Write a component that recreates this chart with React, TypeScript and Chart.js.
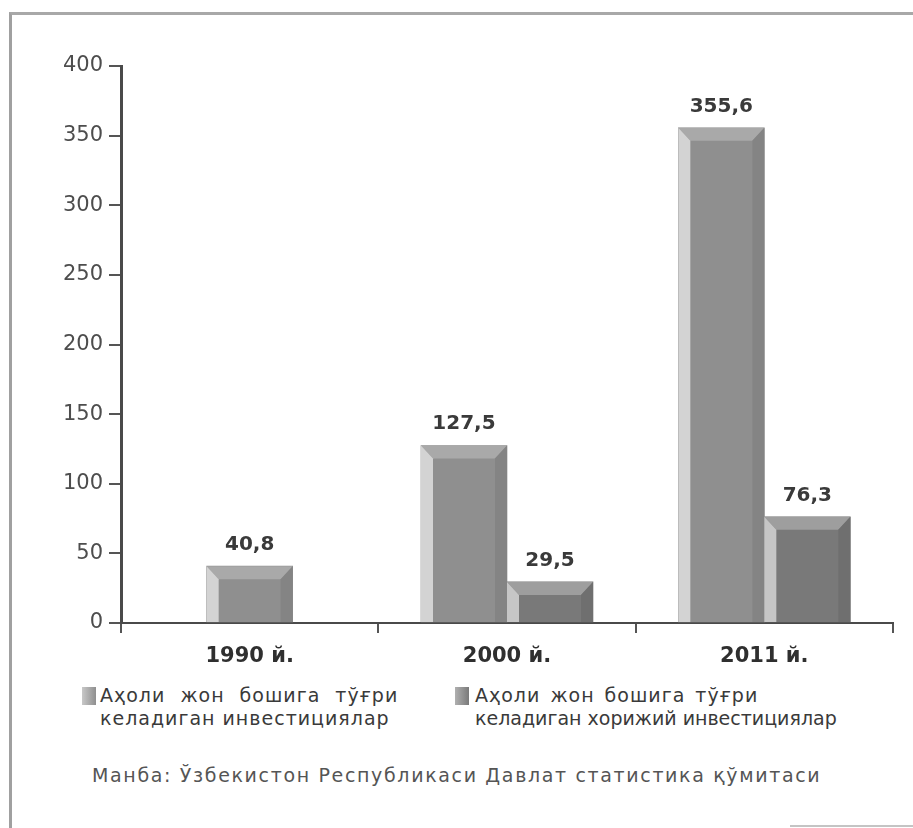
import React, { useEffect, useRef } from "react";
import { Chart, registerables } from "chart.js";

Chart.register(...registerables);

const categories = ["1990 й.", "2000 й.", "2011 й."];
const seriesNames = [
  "Аҳоли жон бошига тўғри келадиган инвестициялар",
  "Аҳоли жон бошига тўғри келадиган хорижий инвестициялар",
];
const totalInvest: (number | null)[] = [40.8, 127.5, 355.6];
const foreignInvest: (number | null)[] = [null, 29.5, 76.3];
const yTicks = [0, 50, 100, 150, 200, 250, 300, 350, 400];
const legendLines1 = ["Аҳоли жон бошига тўғри", "келадиган инвестициялар"];
const legendLines2 = ["Аҳоли жон бошига тўғри", "келадиган хорижий инвестициялар"];
const sourceText = "Манба: Ўзбекистон Республикаси Давлат статистика қўмитаси";

const palette = [
  { face: "#8f8f8f", top: "#a9a9a9", left: "#d3d3d3", right: "#848484" },
  { face: "#797979", top: "#9e9e9e", left: "#c6c6c6", right: "#6f6f6f" },
];

const bevelPlugin = {
  id: "bevel",
  afterDatasetsDraw(chart: any) {
    const ctx = chart.ctx;
    chart.data.datasets.forEach((ds: any, di: number) => {
      const meta = chart.getDatasetMeta(di);
      const pal = palette[di];
      meta.data.forEach((el: any, i: number) => {
        const v = ds.data[i];
        if (v === null || v === undefined) return;
        const p = el.getProps(["x", "y", "base", "width"], true);
        const L = p.x - p.width / 2;
        const R = p.x + p.width / 2;
        const T = p.y;
        const B = p.base;
        const bl = 12, bt = 13, br = 12;
        ctx.save();
        ctx.fillStyle = pal.top;
        ctx.beginPath();
        ctx.moveTo(L, T); ctx.lineTo(R, T); ctx.lineTo(R - br, T + bt); ctx.lineTo(L + bl, T + bt); ctx.closePath();
        ctx.fill();
        ctx.fillStyle = pal.left;
        ctx.beginPath();
        ctx.moveTo(L, T); ctx.lineTo(L + bl, T + bt); ctx.lineTo(L + bl, B); ctx.lineTo(L, B); ctx.closePath();
        ctx.fill();
        ctx.fillStyle = pal.right;
        ctx.beginPath();
        ctx.moveTo(R, T); ctx.lineTo(R, B); ctx.lineTo(R - br, B); ctx.lineTo(R - br, T + bt); ctx.closePath();
        ctx.fill();
        ctx.fillStyle = "#3a3a3a";
        ctx.font = "bold 20px 'DejaVu Sans'";
        ctx.textAlign = "center";
        ctx.textBaseline = "alphabetic";
        ctx.fillText(String(v).replace(".", ","), p.x, T - 16);
        ctx.restore();
      });
    });
  },
};

export default function App() {
  const ref = useRef<HTMLCanvasElement>(null);
  useEffect(() => {
    if (!ref.current) return;
    const chart = new Chart(ref.current, {
      type: "bar",
      data: {
        labels: categories,
        datasets: [
          { label: seriesNames[0], data: totalInvest, backgroundColor: palette[0].face, barThickness: 86 },
          { label: seriesNames[1], data: foreignInvest, backgroundColor: palette[1].face, barThickness: 86 },
        ],
      },
      options: {
        responsive: false,
        animation: false,
        skipNull: true,
        layout: { padding: { left: 20, right: 20, top: 66, bottom: 0 } },
        plugins: { legend: { display: false }, tooltip: { enabled: false } },
        scales: {
          x: {
            afterFit: (s: any) => { s.height = 57; },
            grid: { drawOnChartArea: false, tickLength: 10, color: "#555", lineWidth: 2 },
            border: { color: "#4a4a4a", width: 2 },
            ticks: { color: "#2f2f2f", font: { family: "'DejaVu Sans'", size: 21, weight: "bold" }, padding: 11 },
          },
          y: {
            min: 0,
            max: 400,
            afterFit: (s: any) => { s.width = 101; },
            afterBuildTicks: (s: any) => { s.ticks = yTicks.map((v) => ({ value: v })); },
            grid: { drawOnChartArea: false, tickLength: 12, color: "#555", lineWidth: 2 },
            border: { color: "#4a4a4a", width: 3 },
            ticks: { color: "#4d4d4d", font: { family: "'DejaVu Sans'", size: 21 }, padding: 6 },
          },
        },
      },
      plugins: [bevelPlugin],
    } as any);
    return () => chart.destroy();
  }, []);

  const textStyle: React.CSSProperties = {
    position: "absolute",
    fontFamily: "'DejaVu Sans'",
    fontSize: 19,
    lineHeight: "23px",
    color: "#3a3a3a",
    letterSpacing: "1px",
    whiteSpace: "nowrap",
  };

  return (
    <div style={{ position: "fixed", left: 0, top: 0, width: 913, height: 828, background: "#fff", overflow: "hidden" }}>
      <div style={{ position: "absolute", left: 9, top: 12, width: 910, height: 830, borderLeft: "3px solid #a0a0a0", borderTop: "3px solid #a8a8a8" }} />
      <div style={{ position: "absolute", left: 790, top: 825, width: 123, height: 2, background: "#c4c4c4" }} />
      <canvas ref={ref} width={913} height={680} style={{ position: "absolute", left: 0, top: 0 }} />
      <div style={{ position: "absolute", left: 82, top: 687, width: 14, height: 18, background: "linear-gradient(to right, #c8c8c8, #8f8f8f)" }} />
      <div style={{ ...textStyle, left: 100, top: 684 }}>
        <div style={{ wordSpacing: "8px" }}>{legendLines1[0]}</div>
        <div>{legendLines1[1]}</div>
      </div>
      <div style={{ position: "absolute", left: 455, top: 687, width: 14, height: 18, background: "linear-gradient(to right, #b0b0b0, #7a7a7a)" }} />
      <div style={{ ...textStyle, left: 475, top: 684 }}>
        <div style={{ wordSpacing: "3px" }}>{legendLines2[0]}</div>
        <div style={{ letterSpacing: "0px" }}>{legendLines2[1]}</div>
      </div>
      <div style={{ ...textStyle, left: 92, top: 764, color: "#555", letterSpacing: "1.65px" }}>{sourceText}</div>
    </div>
  );
}
